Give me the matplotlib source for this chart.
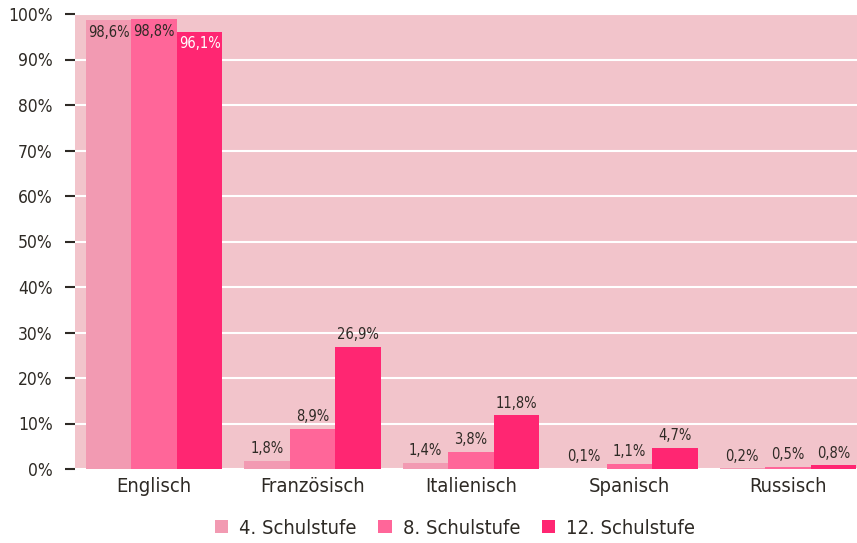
import matplotlib
matplotlib.use("Agg")
import matplotlib.pyplot as plt
import numpy as np
from matplotlib.patches import Patch

plt.rcParams['font.family'] = ['DejaVu Sans']
plt.rcParams['font.stretch'] = 'condensed'

categories = ["Englisch", "Französisch", "Italienisch", "Spanisch", "Russisch"]
series_names = ["4. Schulstufe", "8. Schulstufe", "12. Schulstufe"]
s4 = [98.6, 1.8, 1.4, 0.1, 0.2]
s8 = [98.8, 8.9, 3.8, 1.1, 0.5]
s12 = [96.1, 26.9, 11.8, 4.7, 0.8]
colors = ["#F29AB2", "#FF6699", "#FF2672"]
yticks = [0, 10, 20, 30, 40, 50, 60, 70, 80, 90, 100]

txt = "#2E2A25"
fig = plt.figure(figsize=(8.57, 5.43), dpi=100)
ax = fig.add_axes([75/857, 74/543, 792/857, 455/543])
ax.set_facecolor("#F2C4CB")

x = np.arange(len(categories))
w = 0.287
for i, (vals, c) in enumerate(zip([s4, s8, s12], colors)):
    pos = x + (i - 1) * w
    ax.bar(pos, vals, width=w, color=c, zorder=3)
    for p, v in zip(pos, vals):
        label = f"{v:.1f}%".replace(".", ",")
        if v > 50:
            ax.text(p, v - 1.0, label, ha="center", va="top", fontsize=10.5,
                    color="white" if i == 2 else txt, zorder=4)
        else:
            ax.text(p, v + 1.0, label, ha="center", va="bottom", fontsize=10.5,
                    color=txt, zorder=4)

ax.set_xlim(-0.5, len(categories) - 0.5)
ax.set_ylim(0, 100)
ax.set_yticks(yticks)
ax.set_yticklabels([f"{t}%" for t in yticks], fontsize=12.5, color=txt)
ax.set_xticks(x)
ax.set_xticklabels(categories, fontsize=14.5, color=txt)
ax.tick_params(axis="x", length=0, pad=6)
ax.tick_params(axis="y", length=7, width=1.5, color=txt, pad=9)
for s in ax.spines.values():
    s.set_visible(False)
ax.yaxis.grid(True, color="white", linewidth=1.5, zorder=1)
ax.set_axisbelow(True)

handles = [Patch(facecolor=c, edgecolor="none") for c in colors]
fig.legend(handles, series_names, loc="center", bbox_to_anchor=(455/857, 1 - 528/543),
           ncol=3, frameon=False, fontsize=14.5, handlelength=0.65, handleheight=0.65,
           handletextpad=0.55, columnspacing=1.1, labelcolor=txt)

fig.savefig("out.png", dpi=100)
